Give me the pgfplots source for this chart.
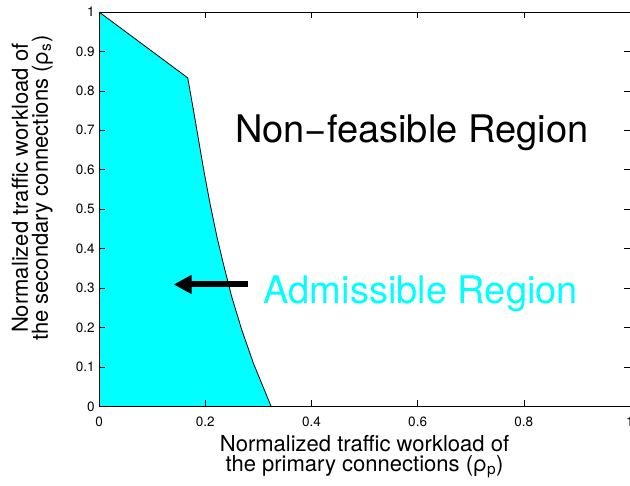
\documentclass[border=0pt]{standalone}
\usepackage{fontspec}
\setmainfont{TeX Gyre Heros}
\usepackage{pgfplots}
\pgfplotsset{compat=1.18}
\usetikzlibrary{arrows.meta}
\definecolor{mcyan}{RGB}{0,255,255}
\begin{document}
\begin{tikzpicture}[trim axis right]
\begin{axis}[
  scale only axis,
  width=530.5pt, height=394pt,
  xmin=0, xmax=1, ymin=0, ymax=1,
  xtick={0,0.2,0.4,0.6,0.8,1},
  ytick={0,0.1,0.2,0.3,0.4,0.5,0.6,0.7,0.8,0.9,1},
  xticklabels={0,0.2,0.4,0.6,0.8,1},
  yticklabels={0,0.1,0.2,0.3,0.4,0.5,0.6,0.7,0.8,0.9,1},
  tick align=inside,
  major tick length=6pt,
  tick style={black, line width=0.6pt},
  axis line style={black, line width=0.9pt},
  tick label style={font=\fontsize{13.5}{16}\selectfont},
  xticklabel style={yshift=-7pt},
  yticklabel style={xshift=-1pt},
  /pgf/number format/assume math mode=true,
  xlabel={Normalized traffic workload of\\the primary connections (ρ\textsubscript{p})},
  ylabel={Normalized traffic workload of\\the secondary connections (ρ\textsubscript{s})},
  label style={font=\fontsize{22}{20}\selectfont, align=center},
  xlabel style={yshift=-2pt},
  ylabel style={at={(ticklabel cs:0.553)}, yshift=16pt},
  axis on top,
  clip=false,
]
\addplot[fill=mcyan, draw=none] coordinates {
(0,1) (0.167,0.833) (0.181,0.726) (0.197,0.600) (0.209,0.514) (0.222,0.430)
(0.234,0.362) (0.250,0.277) (0.269,0.193) (0.291,0.108) (0.324,0) (0,0)
} -- cycle;
\addplot[black, line width=0.8pt] coordinates {
(0,1) (0.167,0.833) (0.181,0.726) (0.197,0.600) (0.209,0.514) (0.222,0.430)
(0.234,0.362) (0.250,0.277) (0.269,0.193) (0.291,0.108) (0.324,0)
};
\draw[black, line width=6pt, -{Triangle[width=18pt,length=18pt]}] (axis cs:0.280,0.309) -- (axis cs:0.1405,0.309);
\node[anchor=base, font=\fontsize{38}{40}\selectfont] at (axis cs:0.589,0.668) {Non\textminus feasible Region};
\node[anchor=base, text=mcyan, font=\fontsize{38}{40}\selectfont] at (axis cs:0.606,0.262) {Admissible Region};
\path (rel axis cs:0,1) ++(0,12pt);
\path (rel axis cs:0,0) ++(-99pt,-79pt);
\end{axis}
\end{tikzpicture}
\end{document}
